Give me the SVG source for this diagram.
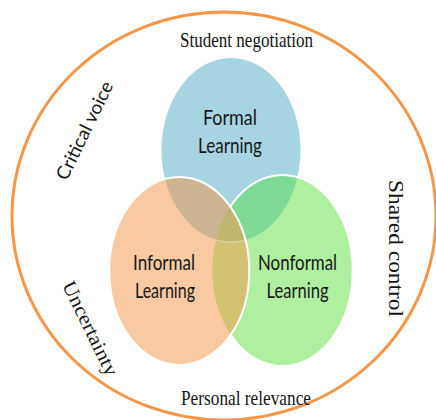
<svg xmlns="http://www.w3.org/2000/svg" width="436" height="420" viewBox="0 0 436 420">
<style>
.serif{font-family:"Liberation Serif","Times New Roman",serif;fill:#151515;}
.sans{font-family:Lato,"Liberation Sans",sans-serif;fill:#161616;}
.edge{fill:none;stroke:#ffffff;stroke-width:2;}
</style>
<defs>
<clipPath id="cB"><ellipse cx="231" cy="150" rx="69.5" ry="92"/></clipPath>
<clipPath id="cO"><ellipse cx="179.3" cy="271" rx="70" ry="94"/></clipPath>
<clipPath id="cG"><ellipse cx="282.5" cy="270.5" rx="70.2" ry="95.5"/></clipPath>
<mask id="notO"><rect width="436" height="420" fill="#fff"/><ellipse cx="179.3" cy="271" rx="70" ry="94" fill="#000"/></mask>
</defs>
<g id="outer">
<ellipse cx="224" cy="216" rx="212" ry="204" fill="none" stroke="#F79646" stroke-width="3"/>
</g>
<g id="formal">
<ellipse cx="231" cy="150" rx="69.5" ry="92" fill="#A6D4E0"/>
<text class="sans" x="230" y="125" font-size="21" text-anchor="middle" textLength="54" lengthAdjust="spacingAndGlyphs">Formal</text>
<text class="sans" x="230" y="153" font-size="21" text-anchor="middle" textLength="64" lengthAdjust="spacingAndGlyphs">Learning</text>
</g>
<g id="nonformal">
<ellipse cx="282.5" cy="270.5" rx="70.2" ry="95.5" fill="#AEEFA0"/>
<text class="sans" x="297.5" y="270" font-size="21" text-anchor="middle" textLength="79" lengthAdjust="spacingAndGlyphs">Nonformal</text>
<text class="sans" x="297.5" y="298" font-size="21" text-anchor="middle" textLength="62" lengthAdjust="spacingAndGlyphs">Learning</text>
</g>
<g id="informal">
<ellipse cx="179.3" cy="271" rx="70" ry="94" fill="#F9C9A2"/>
<text class="sans" x="164" y="270" font-size="21" text-anchor="middle" textLength="62" lengthAdjust="spacingAndGlyphs">Informal</text>
<text class="sans" x="165" y="298" font-size="21" text-anchor="middle" textLength="60" lengthAdjust="spacingAndGlyphs">Learning</text>
</g>
<g id="overlaps">
<ellipse cx="179.3" cy="271" rx="70" ry="94" fill="#CCB593" clip-path="url(#cB)"/>
<ellipse cx="282.5" cy="270.5" rx="70.2" ry="95.5" fill="#7FDA96" clip-path="url(#cB)"/>
<ellipse cx="179.3" cy="271" rx="70" ry="94" fill="#D2C372" clip-path="url(#cG)"/>
<g clip-path="url(#cB)"><ellipse cx="179.3" cy="271" rx="70" ry="94" fill="#BFB56B" clip-path="url(#cG)"/></g>
</g>
<g id="edges">
<g clip-path="url(#cO)"><ellipse cx="231" cy="150" rx="69.5" ry="92" fill="none" stroke="#fff" stroke-opacity="0.35" stroke-width="1.5" clip-path="url(#cG)"/></g>
<ellipse class="edge" cx="282.5" cy="270.5" rx="70.2" ry="95.5" mask="url(#notO)"/>
<ellipse class="edge" cx="179.3" cy="271" rx="70" ry="94"/>
</g>
<g id="labels">
<text class="serif" x="246.5" y="47" font-size="22" text-anchor="middle" textLength="133" lengthAdjust="spacingAndGlyphs">Student negotiation</text>
<text class="serif" x="246" y="405" font-size="21" text-anchor="middle" textLength="130" lengthAdjust="spacingAndGlyphs">Personal relevance</text>
<text class="serif" transform="translate(389,248.5) rotate(90)" x="0" y="0" font-size="21" text-anchor="middle" textLength="137" lengthAdjust="spacingAndGlyphs">Shared control</text>
<text class="sans" transform="translate(90.3,133.3) rotate(-64)" x="0" y="0" font-size="18.5" text-anchor="middle" textLength="107" lengthAdjust="spacingAndGlyphs">Critical voice</text>
<text class="serif" transform="translate(84.4,331.2) rotate(64)" x="0" y="0" font-size="20" text-anchor="middle" textLength="103" lengthAdjust="spacingAndGlyphs">Uncertainty</text>
</g>
</svg>
